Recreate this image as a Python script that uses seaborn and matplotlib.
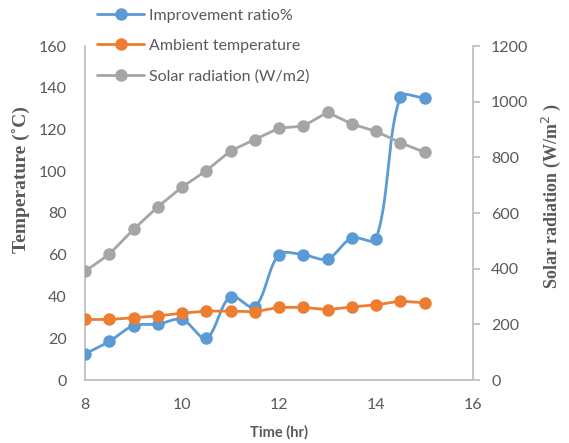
import numpy as np
import pandas as pd
import matplotlib
matplotlib.use("Agg")
import matplotlib.pyplot as plt
from matplotlib.lines import Line2D
import seaborn as sns

# Hourly measurements
time_hr = [8, 8.5, 9, 9.5, 10, 10.5, 11, 11.5, 12, 12.5, 13, 13.5, 14, 14.5, 15]
improvement_ratio = [12.5, 18.5, 26, 26.7, 29, 20, 40, 35, 60, 60, 58, 68, 67.5, 135.5, 135]
ambient_temp = [29, 29, 29.8, 30.7, 32, 33, 33, 32.7, 34.8, 34.8, 33.7, 35, 36, 37.8, 37]
solar_radiation = [390, 452, 541, 622, 693, 752, 823, 864, 905, 912, 962, 920, 893, 853, 818]

x_ticks = [8, 10, 12, 14, 16]
temp_ticks = [0, 20, 40, 60, 80, 100, 120, 140, 160]
solar_ticks = [0, 200, 400, 600, 800, 1000, 1200]

BLUE = "#5B9BD5"
ORANGE = "#ED7D31"
GREY = "#A5A5A5"
TEXT = "#595959"
SPINE = "#BFBFBF"

sns.set_style("white")
plt.rcParams["font.family"] = ["Lato", "DejaVu Sans"]


def smooth_curve(x, y, sx, sy, steps=40):
    """Bezier smoothing through the points, computed in display-like units
    (sx, sy = pixels per data unit) with chord-length-weighted handles."""
    P = np.column_stack([np.asarray(x, float) * sx, np.asarray(y, float) * sy])
    n = len(P)
    out_h, in_h = [], []
    for i in range(n):
        prev = P[max(i - 1, 0)]
        nxt = P[min(i + 1, n - 1)]
        tang = nxt - prev
        d_prev = np.linalg.norm(P[i] - prev)
        d_next = np.linalg.norm(nxt - P[i])
        tot = d_prev + d_next if d_prev + d_next > 0 else 1.0
        out_h.append(P[i] + tang * d_next / tot / 3.0)
        in_h.append(P[i] - tang * d_prev / tot / 3.0)
    pts = []
    for i in range(n - 1):
        t = np.linspace(0, 1, steps, endpoint=(i == n - 2))[:, None]
        b = ((1 - t) ** 3 * P[i] + 3 * (1 - t) ** 2 * t * out_h[i]
             + 3 * (1 - t) * t ** 2 * in_h[i + 1] + t ** 3 * P[i + 1])
        pts.append(b)
    pts = np.vstack(pts)
    return pts[:, 0] / sx, pts[:, 1] / sy


df = pd.DataFrame({
    "time": time_hr,
    "ratio": improvement_ratio,
    "ambient": ambient_temp,
    "solar": solar_radiation,
})

W, H = 569, 443
ax_box = [85 / W, 1 - 380 / H, 388 / W, 334 / H]

cx, cy = smooth_curve(time_hr, improvement_ratio, 388 / 8.0, 334 / 160.0)
smooth_df = pd.DataFrame({"time": cx, "ratio": cy})

fig = plt.figure(figsize=(W / 100, H / 100), dpi=100)
ax = fig.add_axes(ax_box)
ax2 = ax.twinx()

lw = 2.0
ms = 9

sns.lineplot(data=smooth_df, x="time", y="ratio", ax=ax, color=BLUE, linewidth=lw,
             sort=False, estimator=None)
ax.plot(df["time"], df["ratio"], linestyle="none", marker="o", markersize=ms,
        markeredgewidth=0, color=BLUE, zorder=3)
sns.lineplot(data=df, x="time", y="ambient", ax=ax, color=ORANGE, linewidth=lw,
             marker="o", markersize=ms, markeredgewidth=0, zorder=4)
sns.lineplot(data=df, x="time", y="solar", ax=ax2, color=GREY, linewidth=lw,
             marker="o", markersize=ms, markeredgewidth=0)

ax.set_xlim(8, 16)
ax.set_ylim(0, 160)
ax2.set_ylim(0, 1200)
ax.set_xticks(x_ticks)
ax.set_yticks(temp_ticks)
ax2.set_yticks(solar_ticks)

for a in (ax, ax2):
    a.spines["top"].set_visible(False)
    for side in ("left", "right", "bottom"):
        a.spines[side].set_color(SPINE)
        a.spines[side].set_linewidth(1.3)
ax.spines["right"].set_visible(False)
ax2.spines["left"].set_visible(False)
ax2.spines["bottom"].set_visible(False)

ax.tick_params(axis="y", length=0, colors=TEXT, labelsize=11.5, pad=13)
ax.tick_params(axis="x", length=0, colors=TEXT, labelsize=11.5, pad=13)
ax2.tick_params(axis="y", length=5, width=1.3, color=SPINE, labelcolor=TEXT,
                labelsize=11.5, pad=8, direction="out")

serif = ["Liberation Serif", "DejaVu Serif"]
ax.set_xlabel("Time (hr)", fontsize=10.5, fontweight="bold", color=TEXT)
ax.xaxis.set_label_coords(0.5, -(425 - 380) / 334)
ax.set_ylabel("Temperature (˚C)", fontsize=14, fontweight="bold", color=TEXT,
              family=serif)
ax.yaxis.set_label_coords((31 - 85) / 388, (380 - 180) / 334)
ax2.set_ylabel("Solar radiation (W/m$^2$ )", fontsize=13, fontweight="bold",
               color=TEXT, family=serif)
ax2.yaxis.set_label_coords((540 - 85) / 388, (380 - 196) / 334)

handles = [
    Line2D([], [], color=BLUE, lw=lw, marker="o", markersize=ms, markeredgewidth=0),
    Line2D([], [], color=ORANGE, lw=lw, marker="o", markersize=ms, markeredgewidth=0),
    Line2D([], [], color=GREY, lw=lw, marker="o", markersize=ms, markeredgewidth=0),
]
labels = ["Improvement ratio%", "Ambient temperature", "Solar radiation (W/m2)"]
fig.legend(handles, labels, loc="upper left", bbox_to_anchor=(0.16, 0.995),
           frameon=False, fontsize=11.5, labelcolor=TEXT, handlelength=2.9,
           handletextpad=0.3, labelspacing=1.0, borderaxespad=0)

fig.savefig("out.png", dpi=100)
